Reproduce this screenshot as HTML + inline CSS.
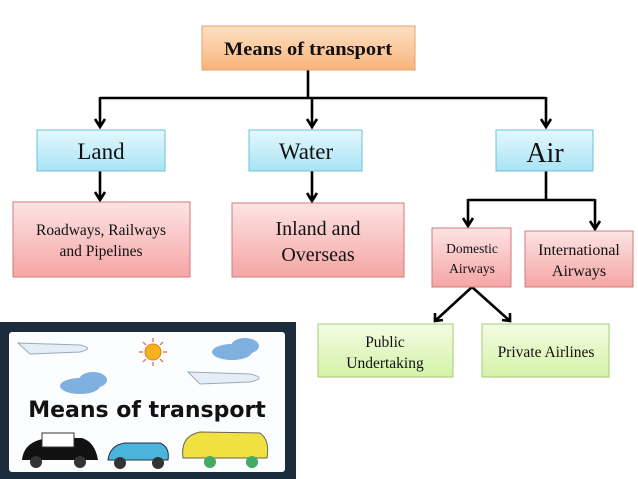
<!DOCTYPE html>
<html><head><meta charset="utf-8"><style>
body{margin:0;background:#fff;}
svg{display:block;}
text{font-family:"Liberation Serif",serif;fill:#111;}
</style></head><body>
<svg width="638" height="479" viewBox="0 0 638 479">
<defs>
<linearGradient id="og" x1="0" y1="0" x2="0" y2="1"><stop offset="0" stop-color="#fde0c4"/><stop offset="1" stop-color="#f8b57c"/></linearGradient>
<linearGradient id="bg" x1="0" y1="0" x2="0" y2="1"><stop offset="0" stop-color="#e4f8fd"/><stop offset="1" stop-color="#a8e4f5"/></linearGradient>
<linearGradient id="rg" x1="0" y1="0" x2="0" y2="1"><stop offset="0" stop-color="#fde4e4"/><stop offset="1" stop-color="#f5a5a5"/></linearGradient>
<linearGradient id="gg" x1="0" y1="0" x2="0" y2="1"><stop offset="0" stop-color="#f3fde3"/><stop offset="1" stop-color="#d4f2a8"/></linearGradient>
</defs>
<g stroke="#000" stroke-width="2.6" fill="none" stroke-linejoin="miter">
<path d="M308,70 V98 M100,98 H546"/>
<path d="M100,97 V127 M95,119 L100,127 L105,119"/>
<path d="M312,98 V127 M307,119 L312,127 L317,119"/>
<path d="M546,97 V127 M541,119 L546,127 L551,119"/>
<path d="M100,171 V200 M95,192 L100,200 L105,192"/>
<path d="M312,171 V201 M307,193 L312,201 L317,193"/>
<path d="M546,171 V200 M468,200 H595"/>
<path d="M468,199 V226 M463,218 L468,226 L473,218"/>
<path d="M595,199 V229 M590,221 L595,229 L600,221"/>
<path d="M472,287 L435,321 M435,313 L435,321 L443,320"/>
<path d="M472,287 L510,321 M502,320 L510,321 L510,313"/>
</g>
<g stroke-width="1">
<rect x="202" y="26" width="213" height="44" fill="url(#og)" stroke="#e8a06a"/>
<rect x="37" y="130" width="128" height="41" fill="url(#bg)" stroke="#6cc0d8"/>
<rect x="249" y="130" width="113" height="41" fill="url(#bg)" stroke="#6cc0d8"/>
<rect x="496" y="130" width="97" height="41" fill="url(#bg)" stroke="#6cc0d8"/>
<rect x="13" y="202" width="177" height="75" fill="url(#rg)" stroke="#d07a7a"/>
<rect x="232" y="203" width="172" height="74" fill="url(#rg)" stroke="#d07a7a"/>
<rect x="432" y="228" width="79" height="59" fill="url(#rg)" stroke="#d07a7a"/>
<rect x="525" y="231" width="108" height="56" fill="url(#rg)" stroke="#d07a7a"/>
<rect x="318" y="324" width="135" height="53" fill="url(#gg)" stroke="#a6cc72"/>
<rect x="482" y="324" width="127" height="53" fill="url(#gg)" stroke="#a6cc72"/>
</g>
<text x="308" y="55" font-size="19" font-weight="bold" text-anchor="middle" textLength="168" lengthAdjust="spacingAndGlyphs">Means of transport</text>
<text x="101" y="159" font-size="23" text-anchor="middle">Land</text>
<text x="306" y="159" font-size="23" text-anchor="middle">Water</text>
<text x="545" y="162" font-size="28" text-anchor="middle">Air</text>
<text x="101" y="235" font-size="15.5" text-anchor="middle">Roadways, Railways</text>
<text x="101" y="256" font-size="15.5" text-anchor="middle">and Pipelines</text>
<text x="318" y="235" font-size="20" text-anchor="middle">Inland and</text>
<text x="318" y="261" font-size="20" text-anchor="middle">Overseas</text>
<text x="472" y="253" font-size="13.5" text-anchor="middle">Domestic</text>
<text x="472" y="273" font-size="13.5" text-anchor="middle">Airways</text>
<text x="579" y="255" font-size="16" text-anchor="middle">International</text>
<text x="579" y="276" font-size="16" text-anchor="middle">Airways</text>
<text x="385" y="347" font-size="15.5" text-anchor="middle">Public</text>
<text x="385" y="368" font-size="15.5" text-anchor="middle">Undertaking</text>
<text x="546" y="357" font-size="15.5" text-anchor="middle">Private Airlines</text>
<!-- picture -->
<rect x="0" y="322" width="296" height="157" fill="#1c2c3c"/>
<rect x="9" y="332" width="276" height="140" rx="3" fill="#fbfdff"/>
<g fill="#e4eef6" stroke="#9aaab8" stroke-width="1">
<path d="M18,343 L80,345 Q95,348 80,352 L30,354 Z"/>
<path d="M188,372 L250,374 Q268,378 250,382 L200,384 Z"/>
</g>
<circle cx="153" cy="352" r="8" fill="#f6b21b" stroke="#e08030"/>
<g stroke="#e88060" stroke-width="1.5"><path d="M153,338V342M153,362V366M139,352H143M163,352H167M143,342L146,345M160,359L163,362M163,342L160,345M146,359L143,362"/></g>
<g fill="#7fb0e0"><ellipse cx="232" cy="352" rx="20" ry="8"/><ellipse cx="245" cy="346" rx="14" ry="8"/><ellipse cx="80" cy="386" rx="20" ry="8"/><ellipse cx="93" cy="380" rx="14" ry="8"/></g>
<text x="147" y="417" font-size="22" font-weight="bold" text-anchor="middle" style="font-family:'DejaVu Sans',sans-serif" fill="#1a2a2a">Means of transport</text>
<g>
<path d="M22,460 Q24,440 50,438 L82,438 Q95,442 98,460 Z" fill="#111"/>
<rect x="42" y="433" width="32" height="14" fill="#fff" stroke="#333"/>
<circle cx="36" cy="462" r="6" fill="#333"/><circle cx="80" cy="462" r="6" fill="#333"/>
<path d="M108,460 Q110,445 125,443 L160,443 Q170,447 168,460 Z" fill="#4ab4dc" stroke="#234"/>
<circle cx="120" cy="463" r="6" fill="#333"/><circle cx="158" cy="463" r="6" fill="#333"/>
<path d="M183,458 Q180,436 200,432 L260,433 Q270,440 267,458 Z" fill="#f0e040" stroke="#665"/>
<circle cx="210" cy="462" r="6" fill="#4a6"/><circle cx="252" cy="462" r="6" fill="#4a6"/>
</g>
</svg>
</body></html>
